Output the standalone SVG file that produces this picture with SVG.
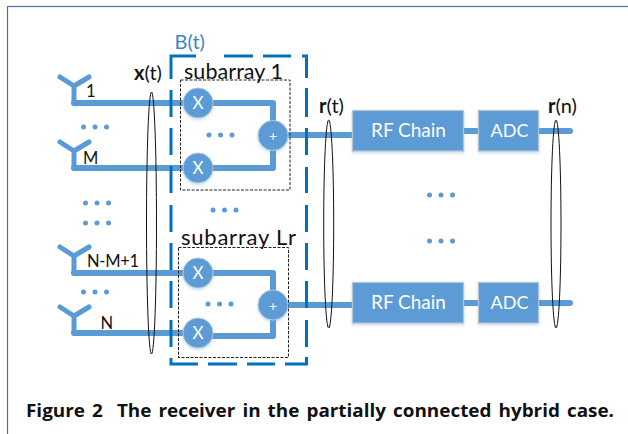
<svg xmlns="http://www.w3.org/2000/svg" width="628" height="434" viewBox="0 0 628 434">
<style>
text{font-family:Lato,"Open Sans","Liberation Sans",sans-serif}
.w{fill:none;stroke:#5b9bd5;stroke-width:6;stroke-linecap:round;stroke-linejoin:round}
.ant{fill:none;stroke:#5b9bd5;stroke-width:5;stroke-linecap:round;stroke-linejoin:round}
.c{fill:#5b9bd5;stroke:#b4c7d8;stroke-width:1;filter:url(#sh)}
.b{fill:#5b9bd5;stroke:#b4c3d2;stroke-width:1.200;filter:url(#sh)}
.tw{fill:#fff;text-anchor:middle}
.lb{fill:#111;font-size:16.500px}
.lbl{fill:#111;font-size:20px}
.ell{fill:none;stroke:#111;stroke-width:1}
.dash{fill:none;stroke:#222;stroke-width:1;stroke-dasharray:3 1.500}
.d{fill:#5b9bd5}
</style>
<defs>
<filter id="sh" x="-20%" y="-20%" width="140%" height="150%"><feDropShadow dx="0" dy="1.500" stdDeviation="1.500" flood-color="#5b9bd5" flood-opacity="0.350"/></filter>
<g id="dots"><circle cx="-11.500" cy="0" r="2.500" class="d"/><circle cx="0" cy="0" r="2.500" class="d"/><circle cx="11.500" cy="0" r="2.500" class="d"/></g>
<g id="ant"><path class="ant" d="M60 77L74 86L89 77M74 86V103"/></g>
</defs>
<rect x="7.500" y="6.500" width="640" height="440" fill="#fff" stroke="#4a74a8" stroke-width="1.200"/>
<g id="connectors">
<path class="w" d="M74 103H183M74 168H183M74 273H183M74 333H183"/>
<path class="w" d="M212 103H273V136M212 168H273V136M212 273H273V305M212 336H273V305"/>
<path class="w" d="M290 135H355M287 305H355M460 131H480M460 303H480M537 131H570M537 303H570"/>
</g>
<g id="bt-frame">
<path fill="none" stroke="#0070c0" stroke-width="3" d="M171 79V56H196M224 56H253M263 56H291M302 56H306.500V78M171 90V117M171 128V155M171 166V193M171 205V232M171 243V270M171 281V308M171 320V347M171 358V364H198M208 364H237M247 364H275M285 364H306.500V357M306.500 88V117M306.500 128V155M306.500 167V193M306.500 205V232M306.500 243V270M306.500 281V308M306.500 320V347"/>
<text x="174.500" y="49" font-size="20" fill="#3d85c6">B(t)</text>
</g>
<g id="subarray1"><rect class="dash" x="180.500" y="80" width="109.500" height="110"/><text x="184" y="79" font-size="21.500" fill="#111" textLength="99">subarray 1</text></g>
<g id="subarrayLr"><rect class="dash" x="178.500" y="247.500" width="110" height="110"/><text x="181" y="245" font-size="22" fill="#111" textLength="115">subarray Lr</text></g>
<g id="antenna1"><use href="#ant"/><text class="lb" x="86" y="97">1</text></g>
<g id="antennaM"><use href="#ant" y="65"/><text class="lb" x="83" y="164">M</text></g>
<g id="antennaNM1"><use href="#ant" y="170"/><text class="lb" x="87" y="267" textLength="52">N-M+1</text></g>
<g id="antennaN"><use href="#ant" y="230"/><text class="lb" x="100.500" y="329">N</text></g>
<g id="mixer1"><circle class="c" cx="198" cy="103" r="15"/><text class="tw" x="198" y="109" font-size="17">X</text></g>
<g id="mixer2"><circle class="c" cx="198" cy="168" r="15"/><text class="tw" x="198" y="174" font-size="17">X</text></g>
<g id="mixer3"><circle class="c" cx="198" cy="273" r="15"/><text class="tw" x="198" y="279" font-size="17">X</text></g>
<g id="mixer4"><circle class="c" cx="198" cy="333" r="15"/><text class="tw" x="198" y="339" font-size="17">X</text></g>
<g id="sum1"><circle class="c" cx="273" cy="135.500" r="15"/><text class="tw" x="273" y="141" font-size="14">+</text></g>
<g id="sum2"><circle class="c" cx="273" cy="305" r="15"/><text class="tw" x="273" y="310.500" font-size="14">+</text></g>
<g id="rf1"><rect class="b" x="352.500" y="110.500" width="111" height="40.500"/><text class="tw" x="408.500" y="137" font-size="19">RF Chain</text></g>
<g id="adc1"><rect class="b" x="478.500" y="110.500" width="60" height="40.500"/><text class="tw" x="509.500" y="137" font-size="18">ADC</text></g>
<g id="rf2"><rect class="b" x="352.500" y="282.500" width="111" height="40.500"/><text class="tw" x="408.500" y="309" font-size="19">RF Chain</text></g>
<g id="adc2"><rect class="b" x="478.500" y="282.500" width="60" height="40.500"/><text class="tw" x="509.500" y="309" font-size="18">ADC</text></g>
<g id="dots-all">
<use href="#dots" x="95" y="127"/><use href="#dots" x="97" y="203"/><use href="#dots" x="97" y="223"/><use href="#dots" x="95" y="292"/>
<use href="#dots" x="220.500" y="135"/><use href="#dots" x="224.500" y="210"/><use href="#dots" x="219.500" y="304"/>
<use href="#dots" x="441" y="195"/><use href="#dots" x="441" y="241"/>
</g>
<g id="buses">
<ellipse class="ell" cx="151.500" cy="223" rx="5" ry="131"/>
<ellipse class="ell" cx="328.700" cy="224" rx="5" ry="104"/>
<ellipse class="ell" cx="556" cy="224" rx="5" ry="104"/>
</g>
<text class="lbl" x="134" y="80"><tspan font-weight="700">x</tspan>(t)</text>
<text class="lbl" x="319" y="113"><tspan font-weight="700">r</tspan>(t)</text>
<text class="lbl" x="548" y="113"><tspan font-weight="700">r</tspan>(n)</text>
<text x="26" y="417" font-size="17.500" font-weight="700" fill="#111" style="font-family:'Open Sans','Liberation Sans',sans-serif;word-spacing:2px" textLength="588" lengthAdjust="spacingAndGlyphs" xml:space="preserve">Figure 2  The receiver in the partially connected hybrid case.</text>
</svg>
